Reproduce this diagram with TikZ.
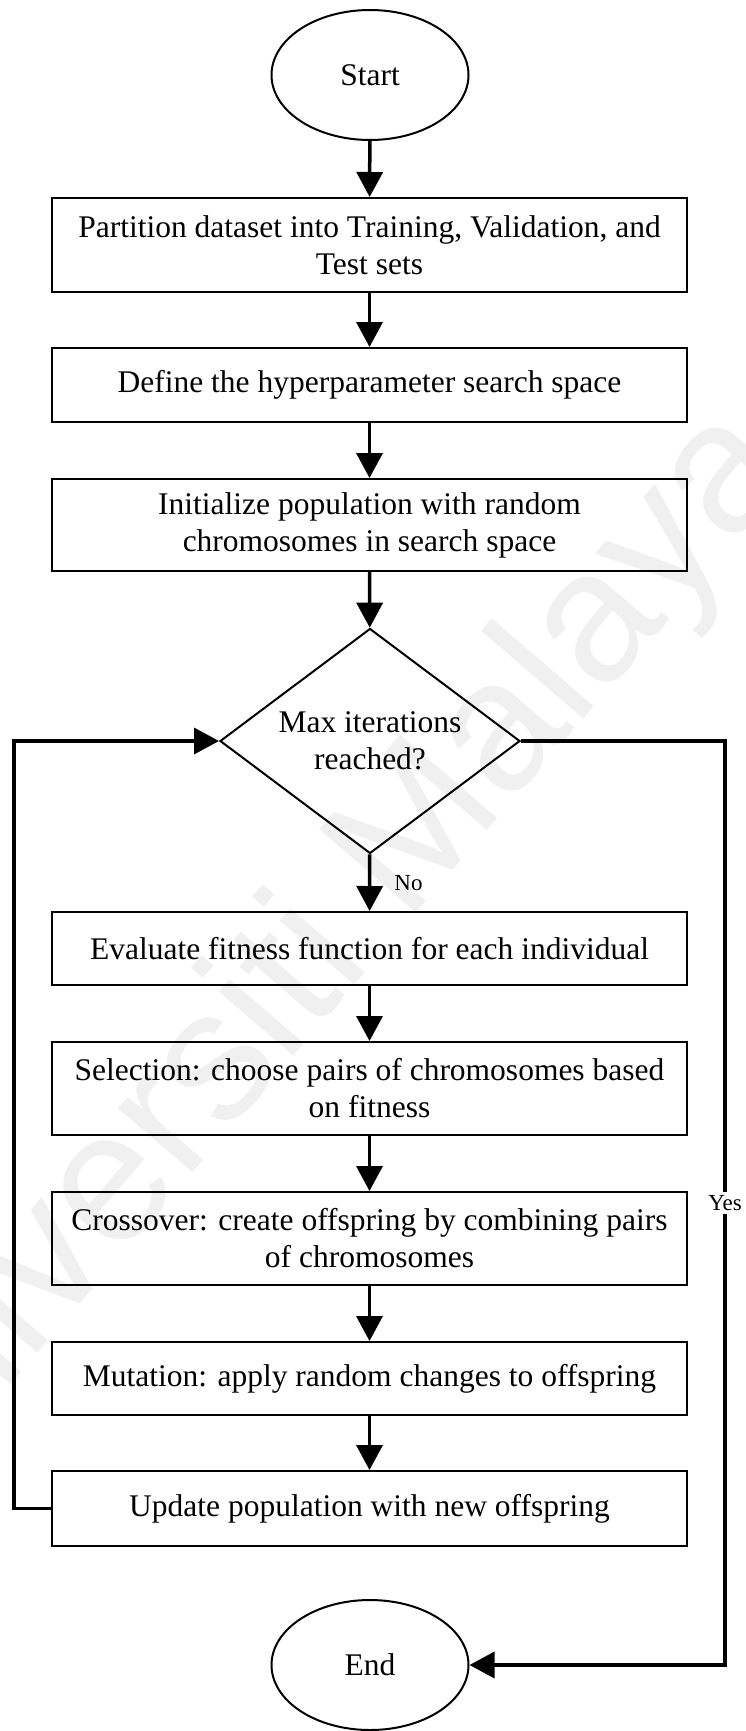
\documentclass[tikz,border=0pt]{standalone}
\usepackage{fontspec}
\setmainfont{Liberation Serif}
\newfontfamily\wmfont{Liberation Sans}
\usetikzlibrary{arrows.meta,shapes.geometric}
\newcommand{\boxfs}{\fontsize{31.5}{37}\selectfont}
\newcommand{\lblfs}{\fontsize{23}{26}\selectfont}
\begin{document}
\begin{tikzpicture}[x=1pt,y=-1pt,
  box/.style={draw, line width=2pt, minimum width=635pt, inner sep=0pt, align=center, font=\boxfs},
  term/.style={draw, ellipse, line width=2pt, minimum width=197pt, minimum height=130pt, inner sep=0pt, font=\boxfs},
  decision/.style={draw, diamond, aspect=1.333, line width=2pt, minimum width=300pt, minimum height=225pt, inner sep=0pt, align=center, font=\boxfs},
  arr/.style={line width=3.5pt, -{Triangle[length=25pt,width=26pt]}},
  lbl/.style={font=\lblfs, inner sep=0pt}]
\useasboundingbox (0,0) rectangle (746,1731);
\clip (0,0) rectangle (746,1731);
\fill[white] (0,0) rectangle (746,1731);
% watermark
\node[font=\wmfont\fontsize{186}{190}\selectfont, text=black!6, rotate=49.3] (wm) at (300,975) {Universiti Malaya};
% nodes
\node[term] (start) at (370,75) {Start};
\node[box, minimum height=94pt] (b1) at (369.5,245) {Partition dataset into Training, Validation, and\\Test sets};
\node[box, minimum height=74pt] (b2) at (369.5,385) {Define the hyperparameter search space};
\node[box, minimum height=92pt] (b3) at (369.5,525) {Initialize population with random\\chromosomes in search space};
\node[decision] (dec) at (370,741) {Max iterations\\reached?};
\node[box, minimum height=73pt] (b4) at (369.5,948.5) {Evaluate fitness function for each individual};
\node[box, minimum height=93pt] (b5) at (369.5,1088.5) {Selection: choose pairs of chromosomes based\\on fitness};
\node[box, minimum height=93pt] (b6) at (369.5,1238.5) {Crossover: create offspring by combining pairs\\of chromosomes};
\node[box, minimum height=73pt] (b7) at (369.5,1378.5) {Mutation: apply random changes to offspring};
\node[box, minimum height=75pt] (b8) at (369.5,1508.5) {Update population with new offspring};
\node[term] (end) at (370,1665) {End};
% helper coordinates
\coordinate (r1) at (725,741);
\coordinate (r2) at (725,1665);
\coordinate (l1) at (14,1508.5);
% connectors
\draw[arr] (start) -- (b1);
\draw[arr] (b1) -- (b2);
\draw[arr] (b2) -- (b3);
\draw[arr] (b3) -- (dec);
\draw[arr] (dec) -- node[lbl, midway, right=23pt] {No} (b4);
\draw[arr] (b4) -- (b5);
\draw[arr] (b5) -- (b6);
\draw[arr] (b6) -- (b7);
\draw[arr] (b7) -- (b8);
\draw[arr] (b8.west) -- (l1) |- (dec.west);
\draw[arr] (dec.east) -- (r1) -- node[lbl, midway, fill=white, inner sep=3pt] {Yes} (r2) -- (end.east);
\end{tikzpicture}
\end{document}
